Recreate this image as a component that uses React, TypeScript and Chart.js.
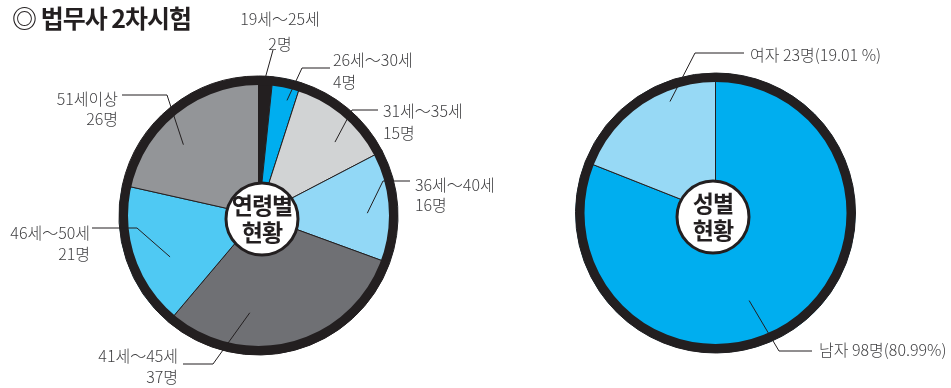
import React, { useEffect, useRef } from "react";
import { Chart, registerables } from "chart.js";

Chart.register(...registerables);

// ---- data ----
const ageLabels = ["19세～25세", "26세～30세", "31세～35세", "36세～40세", "41세～45세", "46세～50세", "51세이상"];
const ageCounts = [2, 4, 15, 16, 37, 21, 26];
const ageColors = ["#231f20", "#00aeef", "#d1d3d4", "#92d8f6", "#6f7074", "#4fc9f3", "#939598"];

const genderLabels = ["남자", "여자"];
const genderCounts = [98, 23];
const genderPercents = ["80.99%", "19.01 %"];
const genderColors = ["#00aeef", "#97d9f5"];

const titleText = "◎ 법무사 2차시험";
const ageHub = ["연령별", "현황"];
const genderHub = ["성별", "현황"];

// ---- styles / layout ----
const INK = "#231f20";
const LABEL_INK = "#3f3f41";
const RING = 9;
const LABEL_FONT = "300 16px 'Noto Sans CJK KR', sans-serif";
const HUB_FONT = "bold 23px 'Noto Sans CJK KR', sans-serif";
const TITLE_FONT = "bold 25px 'Noto Sans CJK KR', sans-serif";

type LabelLayout = {
  shift: number; // degrees clockwise from slice middle
  r: number; // fraction of radius for the anchor
  path: [number, number][]; // page coords
  x: number;
  ys: number[];
  align: CanvasTextAlign;
};

const ageLayout: LabelLayout[] = [
  { shift: 0, r: 1.0, path: [[273, 50]], x: 280, ys: [18.5, 43.5], align: "center" },
  { shift: 2, r: 0.85, path: [[302, 68], [330, 68]], x: 333, ys: [60, 81.5], align: "left" },
  { shift: 6, r: 0.76, path: [[352, 110], [378, 110]], x: 383, ys: [110.5, 132.5], align: "left" },
  { shift: 2.5, r: 0.78, path: [[383, 181], [410, 181]], x: 415, ys: [184.5, 204.5], align: "left" },
  { shift: 20, r: 0.7, path: [[213, 364], [183, 364]], x: 178, ys: [355.5, 376.5], align: "right" },
  { shift: -6.5, r: 0.7, path: [[137, 228], [92, 228]], x: 90, ys: [232.5, 253.5], align: "right" },
  { shift: -8, r: 0.74, path: [[167, 95], [122, 95]], x: 118, ys: [98.5, 118.5], align: "right" },
];

const genderLayout: LabelLayout[] = [
  { shift: 13.2, r: 0.67, path: [[779, 351], [812, 351]], x: 819, ys: [350], align: "left" },
  { shift: 12, r: 0.86, path: [[695, 53], [744, 53]], x: 750, ys: [54.5], align: "left" },
];

type Decor = {
  originX: number;
  layout: LabelLayout[];
  texts: string[][];
  hub: string[];
  hubOffset: [number, number];
  title?: string;
};

function decorPlugin(d: Decor) {
  return {
    id: "decor",
    afterDatasetsDraw(chart: any) {
      const ctx: CanvasRenderingContext2D = chart.ctx;
      const arcs = chart.getDatasetMeta(0).data as any[];
      const p0 = arcs[0].getProps(["x", "y", "outerRadius"], true);
      const cx = p0.x, cy = p0.y, R = p0.outerRadius;
      ctx.save();
      // outer ring
      ctx.beginPath();
      ctx.arc(cx, cy, R - RING / 2, 0, Math.PI * 2);
      ctx.lineWidth = RING;
      ctx.strokeStyle = INK;
      ctx.stroke();

      // leader lines + labels
      d.layout.forEach((lab, i) => {
        const p = arcs[i].getProps(["startAngle", "endAngle"], true);
        const a = (p.startAngle + p.endAngle) / 2 + (lab.shift * Math.PI) / 180;
        const r = R * lab.r;
        ctx.beginPath();
        ctx.moveTo(cx + r * Math.cos(a), cy + r * Math.sin(a));
        lab.path.forEach(([x, y]) => ctx.lineTo(x - d.originX, y));
        ctx.lineWidth = 1;
        ctx.strokeStyle = INK;
        ctx.stroke();
        ctx.font = LABEL_FONT;
        (ctx as any).letterSpacing = "0px";
        ctx.fillStyle = LABEL_INK;
        ctx.textAlign = lab.align;
        ctx.textBaseline = "middle";
        d.texts[i].forEach((t, k) => ctx.fillText(t, lab.x - d.originX, lab.ys[k]));
      });

      // hub
      const hx = cx + d.hubOffset[0], hy = cy + d.hubOffset[1];
      ctx.beginPath();
      ctx.arc(hx, hy, 36, 0, Math.PI * 2);
      ctx.fillStyle = "#ffffff";
      ctx.fill();
      ctx.lineWidth = 3;
      ctx.strokeStyle = INK;
      ctx.stroke();
      ctx.font = HUB_FONT;
      (ctx as any).letterSpacing = "-1px";
      ctx.fillStyle = INK;
      ctx.textAlign = "center";
      ctx.textBaseline = "middle";
      ctx.fillText(d.hub[0], hx, hy - 14);
      ctx.fillText(d.hub[1], hx, hy + 13);

      if (d.title) {
        ctx.font = TITLE_FONT;
        (ctx as any).letterSpacing = "-1px";
        ctx.textAlign = "left";
        ctx.textBaseline = "middle";
        ctx.fillText(d.title, 12, 18);
      }
      ctx.restore();
    },
  };
}

function PieCanvas(props: {
  left: number;
  width: number;
  labels: string[];
  values: number[];
  colors: string[];
  radius: number;
  padding: { left: number; right: number; top: number; bottom: number };
  decor: Decor;
}) {
  const ref = useRef<HTMLCanvasElement | null>(null);
  useEffect(() => {
    if (!ref.current) return;
    const chart = new Chart(ref.current, {
      type: "pie",
      data: {
        labels: props.labels,
        datasets: [
          {
            data: props.values,
            backgroundColor: props.colors,
            borderColor: INK,
            borderWidth: 1,
          },
        ],
      },
      options: {
        responsive: false,
        maintainAspectRatio: false,
        animation: false,
        radius: props.radius,
        layout: { padding: props.padding },
        plugins: { legend: { display: false }, tooltip: { enabled: false } },
      } as any,
      plugins: [decorPlugin(props.decor)],
    });
    return () => chart.destroy();
  }, []);
  return (
    <canvas
      ref={ref}
      width={props.width}
      height={388}
      style={{ position: "absolute", left: props.left, top: 0, width: props.width, height: 388 }}
    />
  );
}

export default function App() {
  const ageTexts = ageLabels.map((l, i) => [l, `${ageCounts[i]}명`]);
  const genderTexts = genderLabels.map((l, i) => [`${l} ${genderCounts[i]}명(${genderPercents[i]})`]);
  return (
    <div style={{ position: "absolute", left: 0, top: 0, width: 951, height: 388, background: "#fff", overflow: "hidden" }}>
      <PieCanvas
        left={0}
        width={520}
        labels={ageLabels}
        values={ageCounts}
        colors={ageColors}
        radius={139.5}
        padding={{ left: 119, right: 122, top: 76, bottom: 33 }}
        decor={{ originX: 0, layout: ageLayout, texts: ageTexts, hub: ageHub, hubOffset: [3.5, 3.5], title: titleText }}
      />
      <PieCanvas
        left={520}
        width={431}
        labels={genderLabels}
        values={genderCounts}
        colors={genderColors}
        radius={140}
        padding={{ left: 55.5, right: 95.5, top: 73, bottom: 35 }}
        decor={{ originX: 520, layout: genderLayout, texts: genderTexts, hub: genderHub, hubOffset: [-2.5, 4] }}
      />
    </div>
  );
}
